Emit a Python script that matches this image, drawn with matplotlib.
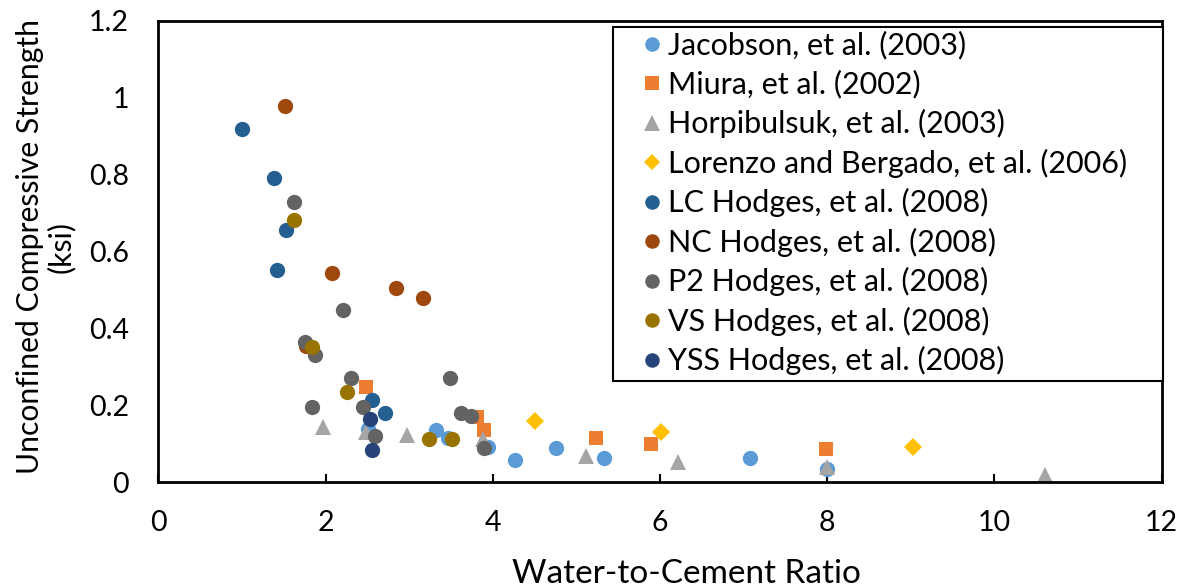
import matplotlib
matplotlib.use("Agg")
import matplotlib.pyplot as plt
from matplotlib.lines import Line2D
from matplotlib.patches import Rectangle

plt.rcParams['font.family'] = ['Lato', 'DejaVu Sans']

# ---- data ----
jacobson_x = [2.51, 3.32, 3.46, 3.94, 4.27, 4.76, 5.33, 7.08, 8.0]
jacobson_y = [0.139, 0.135, 0.115, 0.092, 0.059, 0.089, 0.063, 0.064, 0.034]

miura_x = [2.48, 3.81, 3.90, 5.23, 5.89, 7.98]
miura_y = [0.248, 0.170, 0.137, 0.116, 0.099, 0.087]

horp_x = [1.97, 2.48, 2.97, 3.88, 5.11, 6.21, 8.0, 10.6]
horp_y = [0.145, 0.131, 0.124, 0.112, 0.068, 0.053, 0.040, 0.019]

lorenzo_x = [4.51, 6.01, 9.03]
lorenzo_y = [0.159, 0.132, 0.092]

lc_x = [1.0, 1.385, 1.53, 1.425, 2.55, 2.71]
lc_y = [0.918, 0.792, 0.655, 0.552, 0.213, 0.181]

nc_x = [1.517, 2.076, 2.84, 3.17, 1.77]
nc_y = [0.977, 0.544, 0.506, 0.478, 0.355]

p2_x = [1.625, 2.21, 1.76, 1.88, 2.30, 1.84, 2.45, 2.59, 3.49, 3.62, 3.74, 3.89]
p2_y = [0.729, 0.449, 0.364, 0.330, 0.270, 0.197, 0.197, 0.121, 0.270, 0.179, 0.172, 0.089]

vs_x = [1.625, 1.84, 2.26, 3.24, 3.51]
vs_y = [0.682, 0.352, 0.234, 0.112, 0.112]

yss_x = [2.53, 2.56]
yss_y = [0.164, 0.083]

series = [
    ("Jacobson, et al. (2003)", jacobson_x, jacobson_y, "o", "#5B9BD5"),
    ("Miura, et al. (2002)", miura_x, miura_y, "s", "#ED7D31"),
    ("Horpibulsuk, et al. (2003)", horp_x, horp_y, "^", "#A5A5A5"),
    ("Lorenzo and Bergado, et al. (2006)", lorenzo_x, lorenzo_y, "D", "#FFC000"),
    ("LC Hodges, et al. (2008)", lc_x, lc_y, "o", "#255E91"),
    ("NC Hodges, et al. (2008)", nc_x, nc_y, "o", "#9E480E"),
    ("P2 Hodges, et al. (2008)", p2_x, p2_y, "o", "#636363"),
    ("VS Hodges, et al. (2008)", vs_x, vs_y, "o", "#997300"),
    ("YSS Hodges, et al. (2008)", yss_x, yss_y, "o", "#264478"),
]
sizes = {"o": 11, "s": 10.5, "^": 11.5, "D": 9}

fig = plt.figure(figsize=(11.83, 5.87), dpi=100)
ax = fig.add_axes([0.1338, 0.1784, 0.982 - 0.1338, 0.9647 - 0.1784])

for label, xs, ys, m, c in series:
    ax.plot(xs, ys, linestyle="none", marker=m, markersize=sizes[m],
            color=c, markeredgewidth=0, label=label)

ax.set_xlim(0, 12)
ax.set_ylim(0, 1.2)
ax.set_xticks([0, 2, 4, 6, 8, 10, 12])
ax.set_xticklabels(["0", "2", "4", "6", "8", "10", "12"])
ax.set_yticks([0, 0.2, 0.4, 0.6, 0.8, 1.0, 1.2])
ax.set_yticklabels(["0", "0.2", "0.4", "0.6", "0.8", "1", "1.2"])
ax.tick_params(axis="x", direction="in", length=6, width=1.5, pad=20, labelsize=20.5)
ax.tick_params(axis="y", length=0, pad=21, labelsize=20.5)
for s in ax.spines.values():
    s.set_linewidth(2)
    s.set_color("black")

ax.set_xlabel("Water-to-Cement Ratio", fontsize=24, va="center")
ax.xaxis.set_label_coords(0.526, -0.199)
ax.set_ylabel("Unconfined Compressive Strength\n(ksi)", fontsize=21.7,
              linespacing=1.1, va="center")
ax.yaxis.set_label_coords(-0.112, 0.51)

# legend frame (Excel-style: wide side padding, tight top/bottom)
frame = Rectangle((0.4532, 0.2195), 1.0013 - 0.4532, 0.9864 - 0.2195,
                  transform=ax.transAxes, facecolor="white", edgecolor="black",
                  linewidth=1.5, clip_on=False, zorder=4)
ax.add_patch(frame)

handles = [Line2D([], [], linestyle="none", marker=m, markersize=sizes[m] * 0.95,
                  color=c, markeredgewidth=0) for _, _, _, m, c in series]
labels = [s[0] for s in series]
leg = ax.legend(handles, labels, loc="upper left", bbox_to_anchor=(0.4764, 0.9775),
                fontsize=22, frameon=False, handlelength=1.0, handletextpad=0.03,
                labelspacing=0.34, borderpad=0, borderaxespad=0)
leg.set_zorder(5)

fig.savefig("out.png", dpi=100)
